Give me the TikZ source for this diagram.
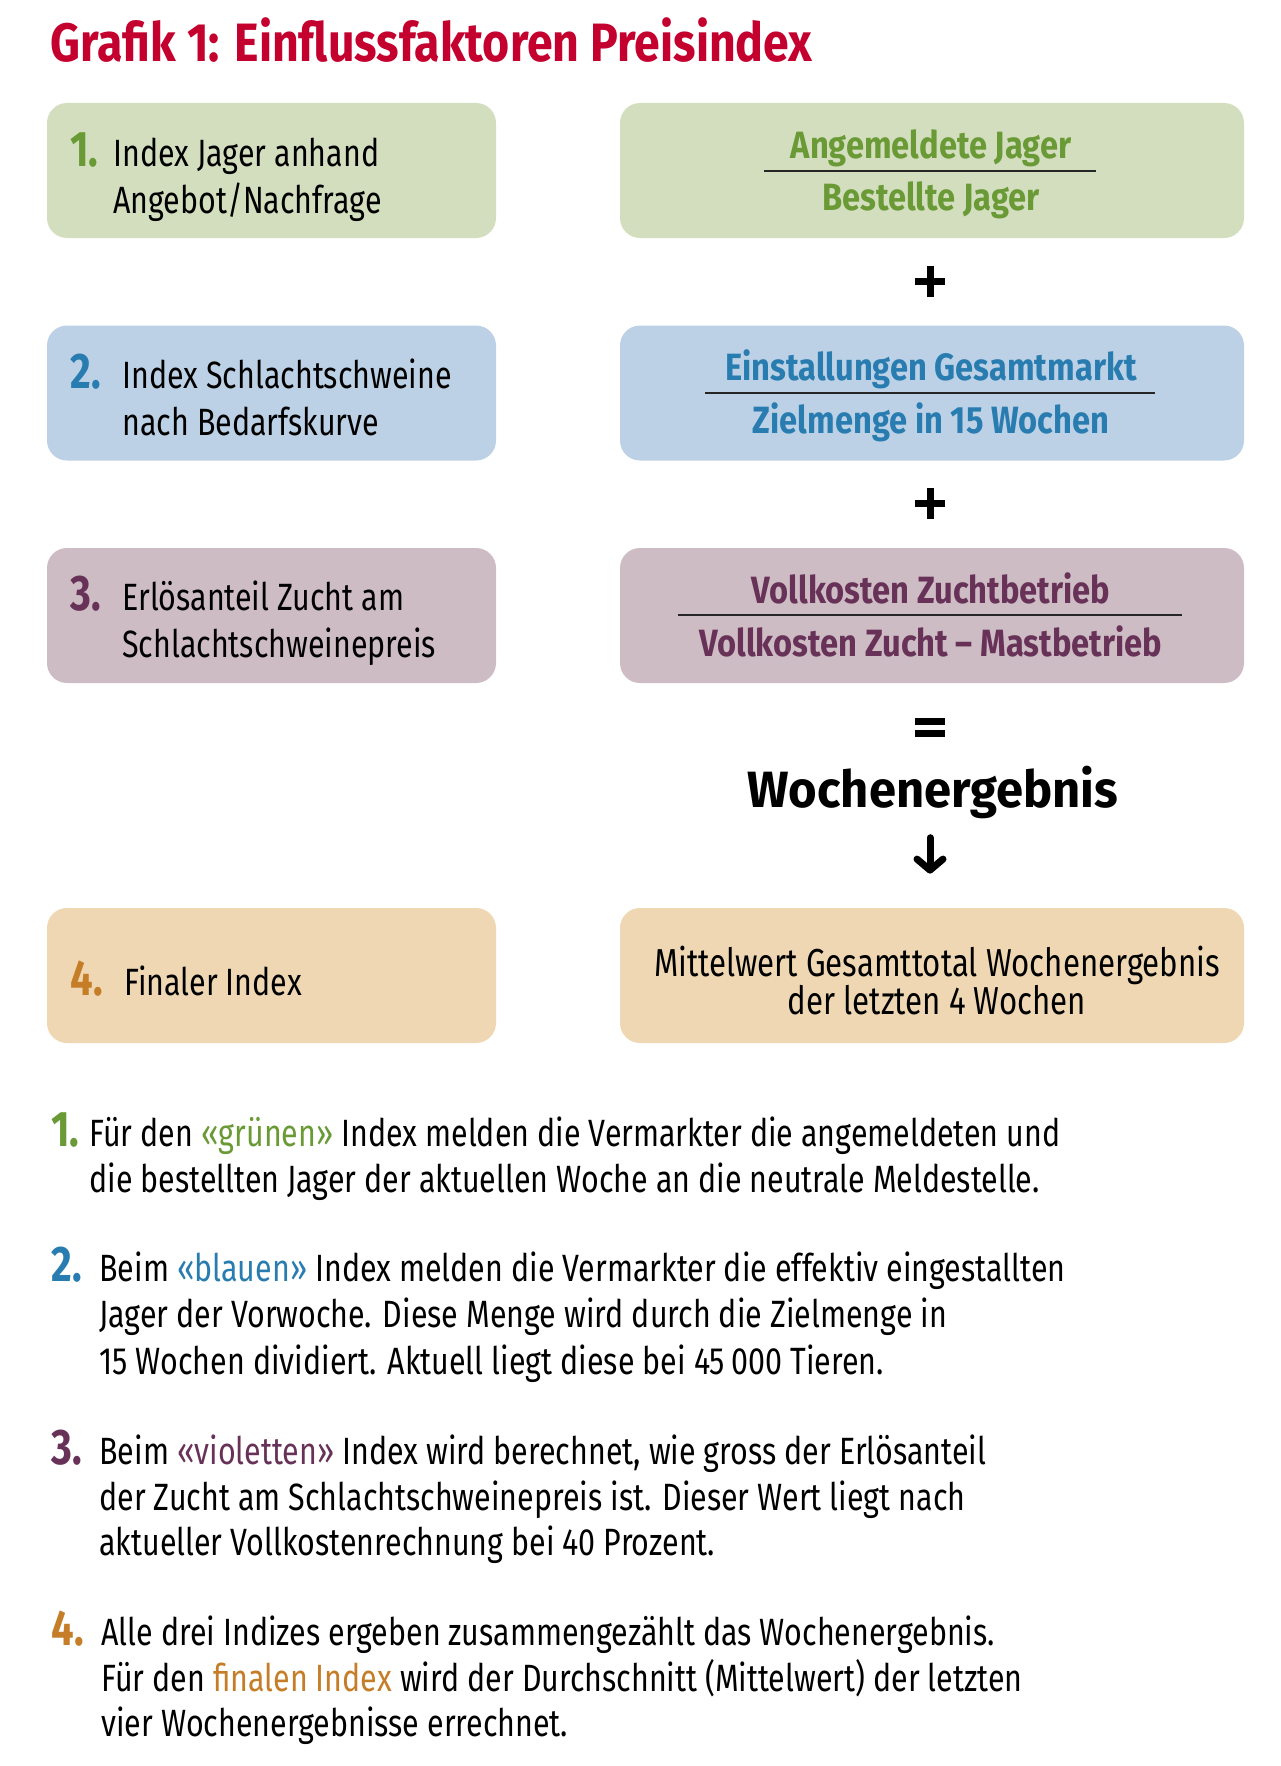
\documentclass[tikz,border=0pt]{standalone}
\usepackage{fontspec}
\setmainfont{Fira Sans}[FakeStretch=0.8]
\newfontfamily\boldw{Fira Sans}[FakeStretch=0.86]
\newfontfamily\wochef{Fira Sans}[FakeStretch=0.96]
\usetikzlibrary{arrows.meta}
\definecolor{titlered}{RGB}{196,0,46}
\definecolor{gtext}{RGB}{106,154,53}
\definecolor{gbox}{RGB}{211,222,191}
\definecolor{btext}{RGB}{41,124,176}
\definecolor{bbox}{RGB}{188,209,229}
\definecolor{ptext}{RGB}{104,50,88}
\definecolor{pbox}{RGB}{205,188,196}
\definecolor{otext}{RGB}{197,125,39}
\definecolor{obox}{RGB}{238,215,178}
\tikzset{
  box/.style={rounded corners=10pt, draw=none, minimum height=67.5pt, inner sep=0pt},
  lbox/.style={box, minimum width=224.5pt},
  rbox/.style={box, minimum width=312pt},
  numb/.style={font=\fontsize{25}{25}\selectfont\bfseries, anchor=base west, inner sep=0pt},
  txt/.style={font=\fontsize{19}{23}\selectfont, anchor=base west, inner sep=0pt},
  ctxt/.style={font=\fontsize{19.5}{23}\selectfont, anchor=base, inner sep=0pt},
  frac/.style={font=\boldw\fontsize{19}{23}\selectfont\bfseries, anchor=base, inner sep=0pt},
  fracbar/.style={line width=0.8pt, black!85},
  opline/.style={line width=3.5pt, black},
}
\begin{document}
\begin{tikzpicture}[x=0.5pt,y=-0.5pt]
\useasboundingbox (0,0) rectangle (1280,1766);
% title
\node[anchor=base west, inner sep=0pt, text=titlered, font=\boldw\fontsize{27}{27}\selectfont\bfseries] (title) at (50,62) {Grafik 1: Einflussfaktoren Preisindex};
% row 1
\node[lbox, fill=gbox] (l1) at (271.5,170.5) {};
\node[rbox, fill=gbox] (r1) at (932,170.5) {};
\node[numb, text=gtext] (n1) at (70,166) {1.};
\node[txt] (l1a) at (113,166) {Index Jager anhand};
\node[txt] (l1b) at (113,213) {Angebot/Nachfrage};
\node[frac, text=gtext] (r1a) at (931,158) {Angemeldete Jager};
\node[frac, text=gtext] (r1b) at (931,210) {Bestellte Jager};
\draw[fracbar] (764,171) -- (1096,171);
% plus 1
\coordinate (p1) at (930,281.5);
\draw[opline] ([xshift=-7.5pt]p1) -- ([xshift=7.5pt]p1);
\draw[opline] ([yshift=-7.75pt]p1) -- ([yshift=7.75pt]p1);
% row 2
\node[lbox, fill=bbox] (l2) at (271.5,393) {};
\node[rbox, fill=bbox] (r2) at (932,393) {};
\node[numb, text=btext] (n2) at (70,388) {2.};
\node[txt] (l2a) at (122,388) {Index Schlachtschweine};
\node[txt] (l2b) at (122,435) {nach Bedarfskurve};
\node[frac, text=btext] (r2a) at (931,380) {Einstallungen Gesamtmarkt};
\node[frac, text=btext] (r2b) at (931,433) {Zielmenge in 15 Wochen};
\draw[fracbar] (705,393) -- (1155,393);
% plus 2
\coordinate (p2) at (930,503.5);
\draw[opline] ([xshift=-7.5pt]p2) -- ([xshift=7.5pt]p2);
\draw[opline] ([yshift=-7.75pt]p2) -- ([yshift=7.75pt]p2);
% row 3
\node[lbox, fill=pbox] (l3) at (271.5,615.5) {};
\node[rbox, fill=pbox] (r3) at (932,615.5) {};
\node[numb, text=ptext] (n3) at (70,610) {3.};
\node[txt] (l3a) at (122,610) {Erlösanteil Zucht am};
\node[txt] (l3b) at (122,657) {Schlachtschweinepreis};
\node[frac, text=ptext] (r3a) at (931,603) {Vollkosten Zuchtbetrieb};
\node[frac, text=ptext] (r3b) at (931,656) {Vollkosten Zucht – Mastbetrieb};
\draw[fracbar] (678,615) -- (1182,615);
% equals
\coordinate (eq) at (930,727.5);
\draw[opline] (915,721.5) -- (945,721.5);
\draw[opline] (915,733.5) -- (945,733.5);
% result
\node[anchor=base, inner sep=0pt, font=\wochef\fontsize{25.5}{26}\selectfont\bfseries] (woche) at (933,807) {Wochenergebnis};
% row 4
\node[lbox, fill=obox] (l4) at (271.5,975.5) {};
\node[rbox, fill=obox] (r4) at (932,975.5) {};
\node[numb, text=otext] (n4) at (70,995) {4.};
\node[txt] (l4a) at (124,995) {Finaler Index};
\node[ctxt] (r4a) at (937,976) {Mittelwert Gesamttotal Wochenergebnis};
\node[ctxt] (r4b) at (937,1014) {der letzten 4 Wochen};
\draw[line width=3.5pt, line cap=round, -{Straight Barb[round, length=5.5pt, width=13pt]}, shorten <=9.5pt, shorten >=17pt] ([xshift=-1.5pt]woche.south) -- ([xshift=-1pt]r4.north);
% notes
\node[numb, text=gtext] (m1) at (51,1146) {1.};
\node[txt] (m1a) at (89,1146) {Für den {\color{gtext}«grünen»} Index melden die Vermarkter die angemeldeten und};
\node[txt] (m1b) at (89,1192) {die bestellten Jager der aktuellen Woche an die neutrale Meldestelle.};
\node[numb, text=btext] (m2) at (51,1281) {2.};
\node[txt] (m2a) at (99,1281) {Beim {\color{btext}«blauen»} Index melden die Vermarkter die effektiv eingestallten};
\node[txt] (m2b) at (99,1327) {Jager der Vorwoche. Diese Menge wird durch die Zielmenge in};
\node[txt] (m2c) at (99,1374) {15 Wochen dividiert. Aktuell liegt diese bei 45\,000 Tieren.};
\node[numb, text=ptext] (m3) at (51,1464) {3.};
\node[txt] (m3a) at (99,1464) {Beim {\color{ptext}«violetten»} Index wird berechnet, wie gross der Erlösanteil};
\node[txt] (m3b) at (99,1510) {der Zucht am Schlachtschweinepreis ist. Dieser Wert liegt nach};
\node[txt] (m3c) at (99,1555) {aktueller Vollkostenrechnung bei 40 Prozent.};
\node[numb, text=otext] (m4) at (51,1645) {4.};
\node[txt] (m4a) at (101,1645) {Alle drei Indizes ergeben zusammengezählt das Wochenergebnis.};
\node[txt] (m4b) at (101,1691) {Für den {\color{otext}finalen Index} wird der Durchschnitt (Mittelwert) der letzten};
\node[txt] (m4c) at (101,1736) {vier Wochenergebnisse errechnet.};
\end{tikzpicture}
\end{document}
